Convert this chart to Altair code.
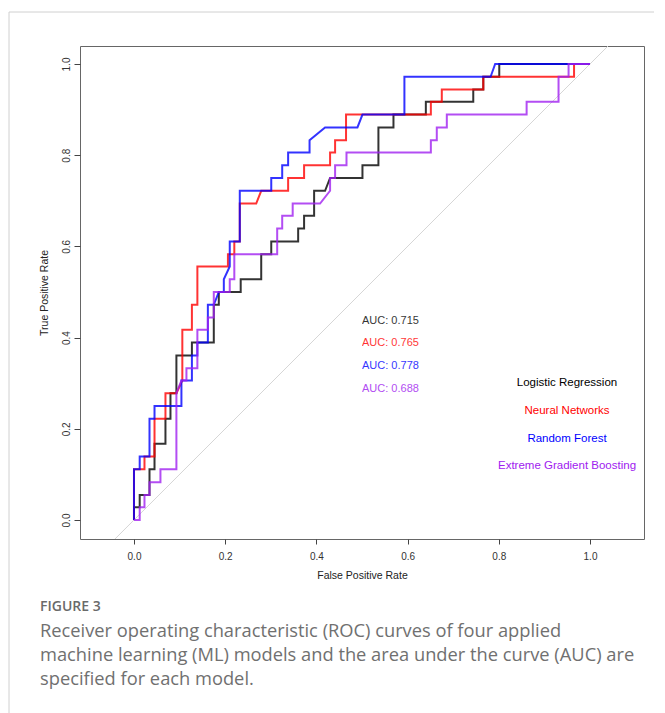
import altair as alt
import pandas as pd

models = ["Logistic Regression", "Neural Networks", "Random Forest", "Extreme Gradient Boosting"]
auc_labels = ["AUC: 0.715", "AUC: 0.765", "AUC: 0.778", "AUC: 0.688"]
colors = ["#000000", "#ff0000", "#0000ff", "#a020f0"]

lr_fpr = [0, 0, 0.0125, 0.0125, 0.034, 0.034, 0.045, 0.045, 0.069, 0.069, 0.080, 0.080, 0.093, 0.093,
          0.127, 0.127, 0.175, 0.175, 0.186, 0.186, 0.234, 0.234, 0.279, 0.279, 0.301, 0.301, 0.36, 0.36,
          0.373, 0.373, 0.395, 0.395, 0.419, 0.43, 0.501, 0.501, 0.536, 0.536, 0.569, 0.569, 0.64, 0.64,
          0.744, 0.744, 0.766, 0.766, 0.801, 0.801, 1.0]
lr_tpr = [0, 0.028, 0.028, 0.055, 0.055, 0.111, 0.111, 0.167, 0.167, 0.222, 0.222, 0.278, 0.278, 0.361,
          0.361, 0.389, 0.389, 0.472, 0.472, 0.5, 0.5, 0.528, 0.528, 0.583, 0.583, 0.611, 0.611, 0.639,
          0.639, 0.667, 0.667, 0.722, 0.722, 0.75, 0.75, 0.778, 0.778, 0.861, 0.861, 0.889, 0.889, 0.917,
          0.917, 0.944, 0.944, 0.972, 0.972, 1.0, 1.0]

nn_fpr = [0, 0, 0.023, 0.023, 0.045, 0.045, 0.069, 0.069, 0.093, 0.106, 0.106, 0.127, 0.127, 0.139, 0.139,
          0.206, 0.206, 0.22, 0.22, 0.232, 0.232, 0.268, 0.279, 0.338, 0.338, 0.373, 0.373, 0.43, 0.43,
          0.441, 0.441, 0.465, 0.465, 0.651, 0.651, 0.675, 0.675, 0.766, 0.766, 0.965, 0.965, 1.0]
nn_tpr = [0, 0.111, 0.111, 0.139, 0.139, 0.222, 0.222, 0.278, 0.278, 0.306, 0.417, 0.417, 0.472, 0.472,
          0.556, 0.556, 0.583, 0.583, 0.611, 0.611, 0.694, 0.694, 0.722, 0.722, 0.75, 0.75, 0.778, 0.778,
          0.806, 0.806, 0.833, 0.833, 0.889, 0.889, 0.917, 0.917, 0.944, 0.944, 0.972, 0.972, 1.0, 1.0]

rf_fpr = [0, 0, 0.0125, 0.0125, 0.034, 0.034, 0.045, 0.045, 0.104, 0.104, 0.127, 0.127, 0.139, 0.139,
          0.162, 0.162, 0.175, 0.186, 0.197, 0.197, 0.21, 0.21, 0.232, 0.232, 0.301, 0.301, 0.325, 0.325,
          0.338, 0.338, 0.385, 0.385, 0.419, 0.49, 0.501, 0.593, 0.593, 0.782, 0.792, 1.0]
rf_tpr = [0, 0.111, 0.111, 0.139, 0.139, 0.222, 0.222, 0.25, 0.25, 0.306, 0.306, 0.361, 0.361, 0.389,
          0.389, 0.472, 0.472, 0.5, 0.5, 0.528, 0.556, 0.611, 0.611, 0.722, 0.722, 0.75, 0.75, 0.778,
          0.778, 0.806, 0.806, 0.833, 0.861, 0.861, 0.889, 0.889, 0.972, 0.972, 1.0, 1.0]

xgb_fpr = [0, 0.0125, 0.0125, 0.023, 0.023, 0.034, 0.034, 0.058, 0.058, 0.093, 0.093, 0.104, 0.115, 0.115,
           0.139, 0.139, 0.162, 0.162, 0.175, 0.175, 0.21, 0.21, 0.22, 0.22, 0.314, 0.314, 0.325, 0.325,
           0.348, 0.348, 0.408, 0.43, 0.43, 0.441, 0.441, 0.466, 0.466, 0.651, 0.651, 0.664, 0.664, 0.686,
           0.686, 0.861, 0.861, 0.931, 0.931, 0.953, 0.953, 1.0]
xgb_tpr = [0, 0, 0.028, 0.028, 0.055, 0.055, 0.083, 0.083, 0.111, 0.111, 0.278, 0.306, 0.306, 0.333,
           0.333, 0.417, 0.417, 0.444, 0.444, 0.5, 0.5, 0.528, 0.528, 0.583, 0.583, 0.639, 0.639, 0.667,
           0.667, 0.694, 0.694, 0.722, 0.75, 0.75, 0.778, 0.778, 0.806, 0.806, 0.833, 0.833, 0.861, 0.861,
           0.889, 0.889, 0.917, 0.917, 0.972, 0.972, 1.0, 1.0]

x_ticks = [0.0, 0.2, 0.4, 0.6, 0.8, 1.0]
y_ticks = [0.0, 0.2, 0.4, 0.6, 0.8, 1.0]
x_domain = [-0.1184, 1.1184]
y_domain = [-0.0417, 1.0395]

caption_title = "FIGURE 3"
caption_lines = [
    "Receiver operating characteristic (ROC) curves of four applied",
    "machine learning (ML) models and the area under the curve (AUC) are",
    "specified for each model.",
]

series = [(lr_fpr, lr_tpr), (nn_fpr, nn_tpr), (rf_fpr, rf_tpr), (xgb_fpr, xgb_tpr)]
rows = []
for m, (fx, ty) in zip(models, series):
    assert len(fx) == len(ty), m
    for i, (a, b) in enumerate(zip(fx, ty)):
        rows.append({"model": m, "i": i, "fpr": a, "tpr": b})
df = pd.DataFrame(rows)

# plot-area geometry (pixels, relative to the page)
OX, OY = 80, 46
W, H = 564, 493

xs = alt.Scale(domain=x_domain, nice=False, zero=False)
ys = alt.Scale(domain=y_domain, nice=False, zero=False)

diag = alt.Chart(pd.DataFrame({"fpr": y_domain, "tpr": y_domain})).mark_line(
    color="#d6d6d6", strokeWidth=1).encode(
    x=alt.X("fpr:Q", scale=xs,
            axis=alt.Axis(values=x_ticks, format=".1f", title="False Positive Rate", domain=False,
                          grid=False, tickSize=5, tickColor="#444", labelFont="Liberation Sans",
                          labelFontSize=10, labelColor="#333", labelPadding=7, titleFont="Liberation Sans",
                          titleFontSize=10.5, titleFontWeight="normal", titleColor="#222", titlePadding=9)),
    y=alt.Y("tpr:Q", scale=ys,
            axis=alt.Axis(values=y_ticks, format=".1f", title="True Positive Rate", domain=False,
                          grid=False, tickSize=6, tickColor="#444", labelFont="Liberation Sans",
                          labelFontSize=10, labelColor="#333", labelAngle=270, labelAlign="center",
                          labelBaseline="bottom", labelPadding=3, titleFont="Liberation Sans",
                          titleFontSize=10.5, titleFontWeight="normal", titleColor="#222", titlePadding=12)),
)

layers = [diag]
for m, c in zip(models, colors):
    layers.append(alt.Chart(df[df.model == m]).mark_line(strokeWidth=2, opacity=0.8, color=c).encode(
        x=alt.X("fpr:Q", scale=xs), y=alt.Y("tpr:Q", scale=ys), order="i:Q"))


def label(text, px, py, **kw):
    return alt.Chart(pd.DataFrame({"t": [text]})).mark_text(**kw).encode(
        x=alt.value(px - OX), y=alt.value(py - OY), text="t:N")


auc_y = [321, 343, 366, 389]
for t, c, yy in zip(auc_labels, colors, auc_y):
    layers.append(label(t, 362, yy, align="left", baseline="middle", font="Liberation Sans",
                        fontSize=11, color=c, opacity=0.8))

leg_y = [383, 411, 439, 466]
for t, c, yy in zip(models, colors, leg_y):
    layers.append(label(t, 567, yy, align="center", baseline="middle", font="Liberation Sans",
                        fontSize=11.5, color=c))

# card frame
frame_df = pd.DataFrame({"a": [0]})
layers.append(alt.Chart(frame_df).mark_rule(color="#d0d0d0", strokeWidth=1).encode(
    x=alt.value(9 - OX), x2=alt.value(665 - OX), y=alt.value(12 - OY)))
layers.append(alt.Chart(frame_df).mark_rule(color="#d0d0d0", strokeWidth=1).encode(
    x=alt.value(9 - OX), y=alt.value(12 - OY), y2=alt.value(713 - OY)))

layers.append(label(caption_title, 40, 607, align="left", baseline="middle", font="Open Sans",
                    fontSize=14, fontWeight=600, color="#6a6a6a"))
for t, yy in zip(caption_lines, [632, 656, 680]):
    layers.append(label(t, 40, yy, align="left", baseline="middle", font="Open Sans",
                        fontSize=18.3, color="#707070"))

chart = alt.layer(*layers).properties(
    width=W, height=H,
    padding={"left": OX - 8, "top": OY - 8, "right": 10, "bottom": 176},
    autosize=alt.AutoSizeParams(type="none"),
    background="white",
).configure_view(stroke="#666", strokeWidth=1)

chart.save("out.html", embed_options={"renderer": "svg", "actions": False})
